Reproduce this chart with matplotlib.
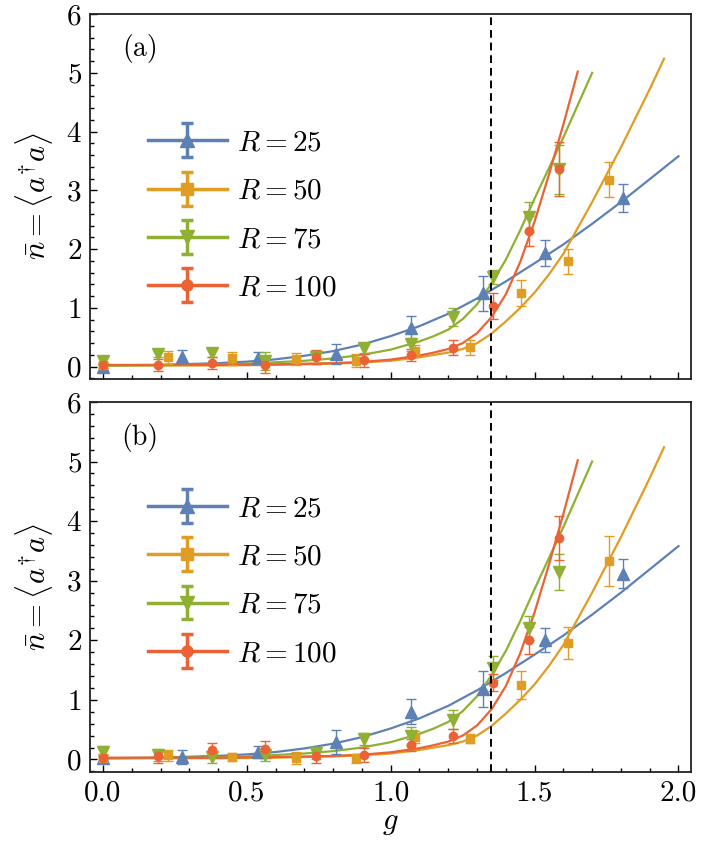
import numpy as np
import matplotlib
matplotlib.use('Agg')
import matplotlib.pyplot as plt
from matplotlib.ticker import MultipleLocator, FormatStrFormatter
from matplotlib.container import ErrorbarContainer
from matplotlib.legend_handler import HandlerErrorbar

plt.rcParams['font.family'] = 'serif'
plt.rcParams['font.serif'] = ['cmr10']
plt.rcParams['mathtext.fontset'] = 'cm'
plt.rcParams['axes.formatter.use_mathtext'] = True
plt.rcParams['axes.unicode_minus'] = False

# series settings
labels = [r'$R=25$', r'$R=50$', r'$R=75$', r'$R=100$']
colors = ['#5E81B5', '#E19C24', '#8FB032', '#EB6235']
markers = ['^', 's', 'v', 'o']
msizes = [8, 6, 8, 6]
g_c = 1.35

# fitted curves (same in both panels)
curve_g_25 = [0, 0.2, 0.4, 0.5, 0.6, 0.7, 0.8, 0.9, 1.0, 1.1, 1.2, 1.3, 1.4, 1.5, 1.6, 1.7, 1.8, 1.9, 2.0]
curve_n_25 = [0.02, 0.03, 0.06, 0.085, 0.125, 0.185, 0.265, 0.375, 0.52, 0.69, 0.90, 1.16, 1.45, 1.76, 2.08, 2.43, 2.80, 3.19, 3.58]
curve_g_50 = [0, 0.4, 0.6, 0.8, 0.9, 1.0, 1.1, 1.2, 1.25, 1.3, 1.35, 1.4, 1.45, 1.5, 1.55, 1.6, 1.7, 1.8, 1.9, 1.95]
curve_n_50 = [0.02, 0.02, 0.03, 0.05, 0.07, 0.10, 0.16, 0.24, 0.30, 0.40, 0.56, 0.77, 1.00, 1.26, 1.57, 1.92, 2.80, 3.73, 4.72, 5.24]
curve_g_75 = [0, 0.3, 0.5, 0.7, 0.8, 0.9, 1.0, 1.1, 1.15, 1.2, 1.25, 1.3, 1.35, 1.4, 1.45, 1.5, 1.55, 1.6, 1.7]
curve_n_75 = [0.02, 0.03, 0.05, 0.10, 0.14, 0.20, 0.29, 0.43, 0.52, 0.63, 0.81, 1.06, 1.41, 1.82, 2.32, 2.86, 3.38, 3.90, 5.0]
curve_g_100 = [0, 0.4, 0.6, 0.8, 0.9, 1.0, 1.1, 1.15, 1.2, 1.25, 1.3, 1.35, 1.4, 1.45, 1.5, 1.55, 1.6, 1.65]
curve_n_100 = [0.03, 0.03, 0.04, 0.06, 0.08, 0.12, 0.19, 0.24, 0.30, 0.40, 0.57, 0.84, 1.23, 1.78, 2.47, 3.27, 4.12, 5.02]

# sample points g for each R
g_25 = [0, 0.273, 0.539, 0.811, 1.069, 1.32, 1.537, 1.807]
g_50 = [0, 0.227, 0.45, 0.67, 0.881, 1.083, 1.274, 1.454, 1.616, 1.76]
g_75 = [0, 0.192, 0.38, 0.562, 0.741, 0.908, 1.07, 1.218, 1.355, 1.479, 1.584]
g_100 = [0, 0.192, 0.38, 0.562, 0.741, 0.908, 1.07, 1.218, 1.355, 1.479, 1.584]

# panel (a)
n_a_25 = [0.0, 0.17, 0.15, 0.22, 0.66, 1.25, 1.93, 2.87]
e_a_25 = [0.05, 0.11, 0.10, 0.17, 0.20, 0.30, 0.22, 0.23]
n_a_50 = [0.03, 0.16, 0.14, 0.13, 0.10, 0.27, 0.33, 1.25, 1.79, 3.18]
e_a_50 = [0.05, 0.11, 0.11, 0.11, 0.11, 0.10, 0.13, 0.22, 0.22, 0.30]
n_a_75 = [0.10, 0.22, 0.23, 0.10, 0.16, 0.31, 0.38, 0.85, 1.53, 2.55, 3.36]
e_a_75 = [0.06, 0.06, 0.07, 0.15, 0.11, 0.07, 0.11, 0.15, 0.12, 0.26, 0.42]
n_a_100 = [0.02, 0.03, 0.06, 0.03, 0.16, 0.11, 0.20, 0.32, 1.03, 2.31, 3.36]
e_a_100 = [0.05, 0.10, 0.10, 0.13, 0.12, 0.11, 0.10, 0.13, 0.22, 0.25, 0.46]

# panel (b)
n_b_25 = [0.03, 0.04, 0.12, 0.30, 0.80, 1.18, 2.00, 3.12]
e_b_25 = [0.05, 0.12, 0.10, 0.20, 0.21, 0.30, 0.20, 0.25]
n_b_50 = [0.02, 0.07, 0.04, 0.03, 0.02, 0.37, 0.35, 1.25, 1.95, 3.33]
e_b_50 = [0.05, 0.09, 0.07, 0.10, 0.08, 0.10, 0.08, 0.24, 0.27, 0.42]
n_b_75 = [0.13, 0.08, 0.04, 0.07, 0.11, 0.34, 0.39, 0.67, 1.53, 2.20, 3.15]
e_b_75 = [0.09, 0.10, 0.10, 0.10, 0.10, 0.10, 0.15, 0.16, 0.20, 0.20, 0.30]
n_b_100 = [0.02, 0.05, 0.16, 0.17, 0.06, 0.08, 0.24, 0.39, 1.29, 2.00, 3.72]
e_b_100 = [0.08, 0.11, 0.12, 0.14, 0.12, 0.12, 0.10, 0.12, 0.14, 0.23, 0.37]

curves = [(curve_g_25, curve_n_25), (curve_g_50, curve_n_50),
          (curve_g_75, curve_n_75), (curve_g_100, curve_n_100)]
g_pts = [g_25, g_50, g_75, g_100]
panels = [
    ('(a)', [n_a_25, n_a_50, n_a_75, n_a_100], [e_a_25, e_a_50, e_a_75, e_a_100], 0.714),
    ('(b)', [n_b_25, n_b_50, n_b_75, n_b_100], [e_b_25, e_b_50, e_b_75, e_b_100], 0.778),
]

fig = plt.figure(figsize=(7.05, 8.46), dpi=100)
axes = [fig.add_axes([0.1277, 0.552, 0.853, 0.4314]),
        fig.add_axes([0.1277, 0.0875, 0.853, 0.4374])]

for ax, (tag, n_list, e_list, leg_y) in zip(axes, panels):
    for i in range(4):
        cg, cn = curves[i]
        ax.plot(cg, cn, '-', color=colors[i], lw=1.6, zorder=2)
    for i in range(4):
        ax.errorbar(g_pts[i], n_list[i], yerr=e_list[i], fmt=markers[i],
                    color=colors[i], ms=msizes[i], mec=colors[i],
                    ecolor=colors[i], elinewidth=1.0, capsize=3.5, capthick=1.0,
                    zorder=3)
    ax.axvline(g_c, color='black', lw=1.4, ls=(0, (4, 2.5)), zorder=4)

    # legend proxies
    handles = []
    for i in range(4):
        h = ax.errorbar([np.nan], [np.nan], yerr=[np.nan], fmt='-' + markers[i],
                        color=colors[i], ms=msizes[i] + 2, lw=2.5,
                        elinewidth=2.5, capsize=4, capthick=2.5, label=labels[i])
        handles.append(h)
    ax.legend(handles=handles, loc='upper left', bbox_to_anchor=(0.077, leg_y),
              frameon=False, fontsize=21, handlelength=2.7, handletextpad=0.35,
              labelspacing=0.75, numpoints=1, borderaxespad=0.0,
              handler_map={ErrorbarContainer: HandlerErrorbar(xerr_size=0.58)})

    ax.text(0.083, 0.905, tag, transform=ax.transAxes, fontsize=20,
            ha='center', va='center')

    ax.set_xlim(-0.045, 2.045)
    ax.set_ylim(-0.21, 6)
    ax.xaxis.set_major_locator(MultipleLocator(0.5))
    ax.xaxis.set_minor_locator(MultipleLocator(0.1))
    ax.yaxis.set_major_locator(MultipleLocator(1))
    ax.yaxis.set_minor_locator(MultipleLocator(0.2))
    ax.tick_params(which='both', direction='in', top=False, right=False,
                   labelsize=21, width=1.0)
    ax.tick_params(which='major', length=5, pad=6)
    ax.tick_params(which='minor', length=3)
    ax.set_ylabel(r'$\bar{n}=\langle a^{\dagger}a\rangle$', fontsize=22, labelpad=8)
    for s in ax.spines.values():
        s.set_linewidth(1.3)
        s.set_color('#222222')

axes[0].tick_params(labelbottom=False)
axes[1].xaxis.set_major_formatter(FormatStrFormatter('%.1f'))
axes[1].set_xlabel(r'$g$', fontsize=22, labelpad=2)

fig.savefig('out.png', dpi=100)
